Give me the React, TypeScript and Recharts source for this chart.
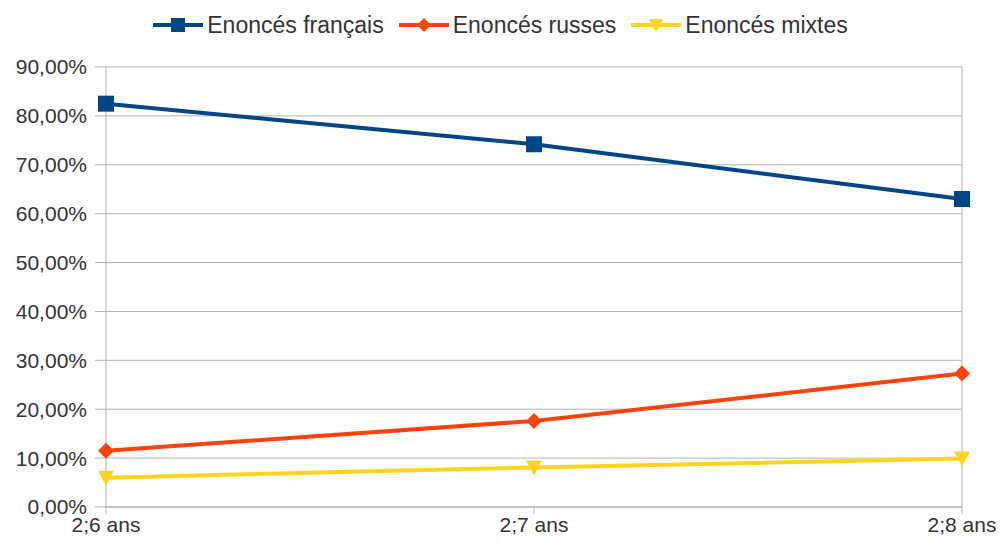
import { LineChart, Line, XAxis, YAxis, CartesianGrid, Legend, ReferenceLine } from "recharts";

const ages = ["2;6 ans", "2;7 ans", "2;8 ans"];
const francais = [0.825, 0.742, 0.63];
const russes = [0.115, 0.176, 0.273];
const mixtes = [0.06, 0.081, 0.099];
const yTicks = [0, 0.1, 0.2, 0.3, 0.4, 0.5, 0.6, 0.7, 0.8, 0.9];

const data = ages.map((age, i) => ({
  age,
  francais: francais[i],
  russes: russes[i],
  mixtes: mixtes[i],
}));

const series = [
  { key: "francais", name: "Enoncés français", color: "#004586", shape: "square" },
  { key: "russes", name: "Enoncés russes", color: "#ff420e", shape: "diamond" },
  { key: "mixtes", name: "Enoncés mixtes", color: "#ffd320", shape: "triangle" },
];

const FONT = "'Liberation Sans', Arial, sans-serif";
const GRID = "#b3b3b3";
const TEXT = "#333333";

const pct = (v: number) => `${(v * 100).toFixed(2).replace(".", ",")}%`;

function Marker({ shape, color, cx, cy, r = 8 }: { shape: string; color: string; cx: number; cy: number; r?: number }) {
  if (shape === "square") {
    return <rect x={cx - r} y={cy - r} width={2 * r} height={2 * r} fill={color} />;
  }
  if (shape === "diamond") {
    return <polygon points={`${cx},${cy - r} ${cx + r},${cy} ${cx},${cy + r} ${cx - r},${cy}`} fill={color} />;
  }
  return <polygon points={`${cx - r},${cy - r + 1} ${cx + r},${cy - r + 1} ${cx},${cy + r}`} fill={color} />;
}

function makeDot(shape: string, color: string) {
  return (props: any) => {
    const { cx, cy, index } = props;
    if (cx == null || cy == null) return <g key={index} />;
    return (
      <g key={index}>
        <Marker shape={shape} color={color} cx={cx} cy={cy} />
      </g>
    );
  };
}

function LegendContent() {
  return (
    <div style={{ display: "flex", justifyContent: "center", alignItems: "center", height: 26, gap: 15 }}>
      {series.map((s) => (
        <div key={s.key} style={{ display: "flex", alignItems: "center" }}>
          <svg width={50} height={20}>
            <line x1={0} y1={10} x2={50} y2={10} stroke={s.color} strokeWidth={4} />
            <Marker shape={s.shape} color={s.color} cx={25} cy={10} r={7} />
          </svg>
          <span style={{ marginLeft: 4, fontSize: 23, color: TEXT, fontFamily: FONT }}>{s.name}</span>
        </div>
      ))}
    </div>
  );
}

export default function App() {
  return (
    <div style={{ position: "absolute", left: 0, top: 0, width: 1001, height: 545, background: "#fff", fontFamily: FONT }}>
      <LineChart width={1001} height={545} data={data} margin={{ top: 41, right: 39, bottom: 0, left: 0 }}>
        <CartesianGrid stroke={GRID} vertical={false} />
        <Legend verticalAlign="top" content={<LegendContent />} wrapperStyle={{ top: 12, left: 0, width: 1001 }} />
        <XAxis
          dataKey="age"
          height={38}
          tick={{ fill: TEXT, fontSize: 21, fontFamily: FONT }}
          tickLine={{ stroke: GRID }}
          tickSize={7}
          tickMargin={3}
          axisLine={{ stroke: GRID }}
          interval={0}
        />
        <YAxis
          width={106}
          domain={[0, 0.9]}
          ticks={yTicks}
          tickFormatter={pct}
          tick={{ fill: TEXT, fontSize: 21, fontFamily: FONT }}
          tickLine={{ stroke: GRID }}
          tickSize={11}
          tickMargin={8}
          axisLine={{ stroke: GRID }}
          interval={0}
        />
        <ReferenceLine x={ages[ages.length - 1]} stroke={GRID} />
        {series.map((s) => (
          <Line
            key={s.key}
            type="linear"
            dataKey={s.key}
            name={s.name}
            stroke={s.color}
            strokeWidth={4}
            dot={makeDot(s.shape, s.color)}
            activeDot={false}
            isAnimationActive={false}
          />
        ))}
      </LineChart>
    </div>
  );
}
